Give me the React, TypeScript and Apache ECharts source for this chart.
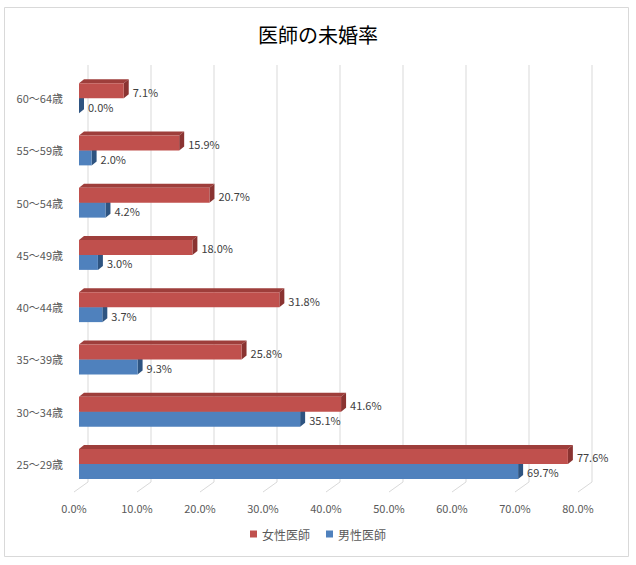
import React, { useEffect, useRef } from 'react';
import * as echarts from 'echarts';

const categories = ['25～29歳', '30～34歳', '35～39歳', '40～44歳', '45～49歳', '50～54歳', '55～59歳', '60～64歳'];
const femaleValues = [77.6, 41.6, 25.8, 31.8, 18.0, 20.7, 15.9, 7.1];
const maleValues = [69.7, 35.1, 9.3, 3.7, 3.0, 4.2, 2.0, 0.0];
const xTicks = [0, 10, 20, 30, 40, 50, 60, 70, 80];

const FONT = '"Noto Sans CJK JP", "Noto Sans", sans-serif';
const DX = 5; // 奥行き(横)
const DY = 4; // 奥行き(縦)
const BAR_H = 15;

const makeBarRenderer = (front: string, top: string, side: string, upper: boolean) =>
  (params: any, api: any) => {
    const v = api.value(0);
    const idx = api.value(1);
    const [x1, cy] = api.coord([v, idx]);
    const [x0] = api.coord([0, idx]);
    const yT = upper ? cy - BAR_H : cy;
    const yB = yT + BAR_H;
    return {
      type: 'group',
      children: [
        {
          type: 'polygon',
          shape: { points: [[x0, yT], [x0 + DX, yT - DY], [x1 + DX, yT - DY], [x1, yT]] },
          style: { fill: top },
        },
        {
          type: 'polygon',
          shape: { points: [[x1, yT], [x1 + DX, yT - DY], [x1 + DX, yB - DY], [x1, yB]] },
          style: { fill: side },
        },
        {
          type: 'rect',
          shape: { x: x0, y: yT, width: Math.max(x1 - x0, 0), height: BAR_H },
          style: { fill: front },
        },
        {
          type: 'text',
          x: x1 + DX + 4,
          y: yT + BAR_H / 2 + 1,
          style: {
            text: v.toFixed(1) + '%',
            fill: '#404040',
            fontSize: 11,
            fontFamily: FONT,
            verticalAlign: 'middle',
            align: 'left',
          },
        },
      ],
    };
  };

const App: React.FC = () => {
  const chartRef = useRef<HTMLDivElement>(null);

  useEffect(() => {
    document.body.style.margin = '0';
    if (!chartRef.current) return;
    const chart = echarts.init(chartRef.current, undefined, { renderer: 'svg' });

    const option: any = {
      animation: false,
      backgroundColor: '#ffffff',
      title: {
        text: '医師の未婚率',
        left: 'center',
        top: 19,
        textStyle: { fontSize: 20, fontWeight: 'normal', color: '#000000', fontFamily: FONT },
      },
      graphic: [
        {
          type: 'rect',
          shape: { x: 4.5, y: 7.5, width: 624, height: 549 },
          style: { fill: 'none', stroke: '#d9d9d9', lineWidth: 1 },
          silent: true,
        },
      ],
      legend: {
        data: ['女性医師', '男性医師'],
        bottom: 20,
        left: 'center',
        icon: 'rect',
        itemWidth: 7,
        itemHeight: 7,
        itemGap: 16,
        textStyle: { fontSize: 12, color: '#595959', fontFamily: FONT },
      },
      grid: { left: 79, right: 53, top: 72, bottom: 75 },
      xAxis: {
        type: 'value',
        min: 0,
        max: 80,
        interval: 10,
        axisLine: { show: false },
        axisTick: { show: false },
        splitLine: { show: false },
        axisLabel: {
          formatter: (v: number) => v.toFixed(1) + '%',
          fontSize: 11,
          color: '#595959',
          fontFamily: FONT,
          margin: 12,
          padding: [0, 10, 0, 0],
        },
      },
      yAxis: {
        type: 'category',
        data: categories,
        axisLine: { show: false },
        axisTick: { show: false },
        axisLabel: {
          fontSize: 11,
          color: '#595959',
          fontFamily: FONT,
          margin: 16,
          padding: [13, 0, 0, 0],
        },
      },
      series: [
        {
          type: 'custom',
          name: 'grid',
          silent: true,
          z: 1,
          data: xTicks.map((t) => [t, 0]),
          encode: { x: 0, y: 1 },
          renderItem: (params: any, api: any) => {
            const cs = params.coordSys;
            const [x] = api.coord([api.value(0), 0]);
            const top = cs.y;
            const bottom = cs.y + cs.height;
            return {
              type: 'polyline',
              shape: { points: [[x + 9, top - 7], [x + 9, bottom - 8], [x - 5, bottom + 2]] },
              style: { stroke: '#d9d9d9', lineWidth: 1, fill: 'none' },
            };
          },
        },
        {
          type: 'custom',
          name: '男性医師',
          z: 2,
          itemStyle: { color: '#4F81BD' },
          data: maleValues.map((v, i) => [v, i]),
          encode: { x: 0, y: 1 },
          renderItem: makeBarRenderer('#4F81BD', '#3C6899', '#2E5481', false),
        },
        {
          type: 'custom',
          name: '女性医師',
          z: 3,
          itemStyle: { color: '#C0504D' },
          data: femaleValues.map((v, i) => [v, i]),
          encode: { x: 0, y: 1 },
          renderItem: makeBarRenderer('#C0504D', '#9E3E3B', '#8A3331', true),
        },
      ],
    };

    chart.setOption(option);
    return () => {
      chart.dispose();
    };
  }, []);

  return <div ref={chartRef} style={{ width: 636, height: 565 }} />;
};

export default App;
